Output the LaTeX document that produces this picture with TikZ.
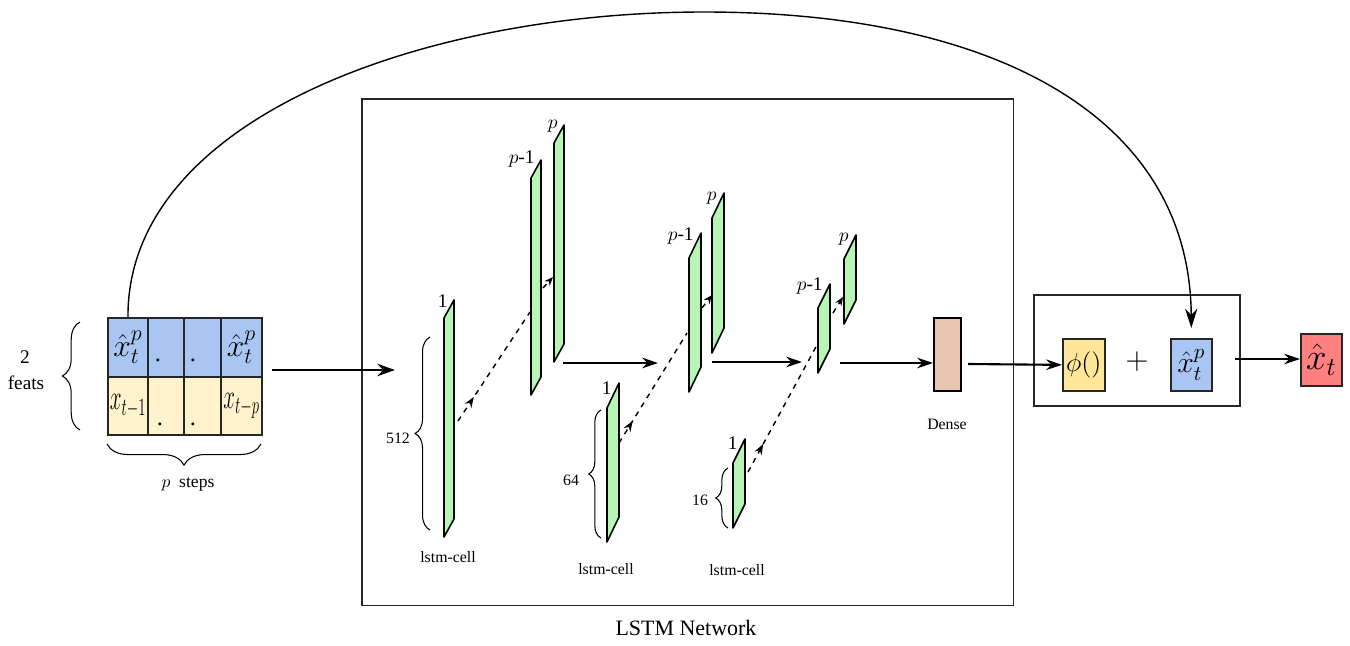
\RequirePackage{fix-cm}
\documentclass[tikz,border=0pt]{standalone}
\usepackage{amsmath}
\usepackage{graphicx}
\usepackage[no-math]{fontspec}
\setmainfont{Liberation Serif}
\usetikzlibrary{arrows.meta,decorations.pathreplacing,decorations.markings}

\definecolor{cblue}{RGB}{169,198,242}
\definecolor{ccream}{RGB}{255,243,206}
\definecolor{cyel}{RGB}{255,230,153}
\definecolor{cred}{RGB}{255,128,128}
\definecolor{cgreen}{RGB}{183,245,183}
\definecolor{cdense}{RGB}{232,198,175}

\newcommand\fs[1]{\fontsize{#1}{#1}\selectfont}
% name, x, ytop, ybottom, dx, dy
\newcommand\lcell[6]{%
  \draw[cellsty] (#2,#4) -- (#2,#3) -- (#2+#5,#3+#6) -- (#2+#5,#4+#6) -- cycle;
  \coordinate (#1) at (#2+#5/2,#3+#6/2);}

\tikzset{
  cellsty/.style={draw=black, fill=cgreen, line width=0.9pt, line join=round},
  cl/.style={anchor=south east, inner sep=0.6pt, font=\fs{11}},
  txt/.style={inner sep=0pt, font=\fs{9}},
  gcell/.style={draw=black!85, line width=1.1pt, anchor=north west, inner sep=0pt, minimum height=1.18cm},
  ibox/.style={draw=black!85, line width=0.9pt, anchor=north west, inner sep=0pt},
  conn/.style={line width=1.2pt, -{Stealth[length=9pt,width=6pt]}},
  bigconn/.style={line width=1.5pt, -{Stealth[length=10pt,width=7pt]}},
  thinconn/.style={line width=0.9pt, -{Stealth[length=9pt,width=6pt]}},
  dmid/.style={dashed, line width=0.8pt, postaction={decorate},
    decoration={markings, mark=at position #1 with {\arrow{Stealth[length=6pt,width=4.5pt]}}}},
  dend/.style={dashed, line width=0.8pt, -{Stealth[length=5pt,width=4pt]}},
  bracesty/.style={decorate, decoration={brace, amplitude=#1}, line width=0.6pt},
  dotn/.style={inner sep=0pt, font=\fs{14}},
}

\begin{document}
\begin{tikzpicture}[x=0.02cm, y=-0.02cm]
\useasboundingbox (0,0) rectangle (1350,646);

% ---------- input grid ----------
\node[gcell, fill=cblue, minimum width=0.80cm] (g11) at (107,317) {\fs{18}$\hat{x}^p_t$};
\node[gcell, fill=cblue, minimum width=0.72cm] (g12) at (147,317) {};
\node[gcell, fill=cblue, minimum width=0.74cm] (g13) at (183,317) {};
\node[gcell, fill=cblue, minimum width=0.82cm] (g14) at (220,317) {\fs{18}$\hat{x}^p_t$};
\node[gcell, fill=ccream, minimum width=0.80cm, minimum height=1.16cm] (g21) at (107,376) {\fs{20}\scalebox{0.6}[1]{$x_{t-1}$}};
\node[gcell, fill=ccream, minimum width=0.72cm, minimum height=1.16cm] (g22) at (147,376) {};
\node[gcell, fill=ccream, minimum width=0.74cm, minimum height=1.16cm] (g23) at (183,376) {};
\node[gcell, fill=ccream, minimum width=0.82cm, minimum height=1.16cm] (g24) at (220,376) {\fs{20}\scalebox{0.6}[1]{$x_{t-p}$}};
\node[dotn] (d1) at (158,360) {.};
\node[dotn] (d2) at (193,360) {.};
\node[dotn] (d3) at (160,424) {.};
\node[dotn] (d4) at (193,424) {.};

% braces around grid
\draw[bracesty=10pt] (80,430) -- (80,322);
\node[inner sep=0pt, font=\fs{11}] (two) at (25,357) {2};
\node[inner sep=0pt, font=\fs{11}] (feats) at (26,383) {feats};
\draw[bracesty=12pt] (261,444) -- (107,444);
\node[inner sep=0pt, font=\fs{10}] (psteps) at (188,484) {$p$\ \ steps};

% ---------- LSTM network box ----------
\node[ibox, minimum width=13.04cm, minimum height=10.14cm] (lstm) at (361,98) {};
\node[inner sep=0pt, font=\fs{12.5}] (lstmlbl) at (686,628) {LSTM Network};

% coordinates for connectors
\coordinate (in0) at (272,370);
\coordinate (in1) at (395,370);
\coordinate (a1s) at (563,363);
\coordinate (a1e) at (658,363);
\coordinate (a2s) at (712,362);
\coordinate (a2e) at (802,362);
\coordinate (a3s) at (840,363);
\coordinate (a3e) at (925,363);
\coordinate (d1s) at (458,421);
\coordinate (d1e) at (530,312);
\coordinate (e1s) at (543,288);
\coordinate (e1e) at (553,277);
\coordinate (d2s) at (619,443);
\coordinate (d2e) at (687,333);
\coordinate (e2s) at (702,308);
\coordinate (e2e) at (712,295);
\coordinate (d3s) at (748,472);
\coordinate (d3e) at (817,345);
\coordinate (e3s) at (833,313);
\coordinate (e3e) at (843,297);

\draw[bigconn] (in0) -- (in1);

% layer 1
\draw[dmid=0.22] (d1s) -- (d1e);
\draw[dend] (e1s) -- (e1e);
\lcell{c11}{444}{318}{537}{10}{-18}
\lcell{c12}{531}{178}{395}{10}{-18}
\lcell{c13}{554}{143}{362}{10}{-18}
\node[cl] (l11) at (c11) {1};
\node[cl] (l12) at (c12) {$p$-1};
\node[cl] (l13) at (c13) {$p$};
\draw[bracesty=8.5pt] (430,530) -- (430,337);
\node[txt] (n512) at (398,438) {512};
\node[txt] (lc1) at (448,557) {lstm-cell};
\draw[conn] (a1s) -- (a1e);

% layer 2
\draw[dmid=0.2] (d2s) -- (d2e);
\draw[dend] (e2s) -- (e2e);
\lcell{c21}{607}{408}{542}{12}{-25}
\lcell{c22}{689}{258}{392}{12}{-25}
\lcell{c23}{712}{218}{353}{12}{-25}
\node[cl] (l21) at (c21) {1};
\node[cl] (l22) at (c22) {$p$-1};
\node[cl] (l23) at (c23) {$p$};
\draw[bracesty=7pt] (601,538) -- (601,410);
\node[txt] (n64) at (571,480) {64};
\node[txt] (lc2) at (606,569) {lstm-cell};
\draw[conn] (a2s) -- (a2e);

% layer 3
\draw[dmid=0.22] (d3s) -- (d3e);
\draw[dend] (e3s) -- (e3e);
\lcell{c31}{733}{463}{528}{12}{-24}
\lcell{c32}{818}{308}{373}{12}{-24}
\lcell{c33}{844}{259}{324}{12}{-24}
\node[cl] (l31) at (c31) {1};
\node[cl] (l32) at (c32) {$p$-1};
\node[cl] (l33) at (c33) {$p$};
\draw[bracesty=7pt] (728,528) -- (728,468);
\node[txt] (n16) at (700,500) {16};
\node[txt] (lc3) at (737,570) {lstm-cell};

% dense
\node[ibox, draw=black, line width=1.1pt, fill=cdense, minimum width=0.54cm, minimum height=1.46cm] (dense) at (933,317) {};
\node[txt] (denselbl) at (947,424) {Dense};
\draw[conn] (a3s) -- (dense.west |- a3s);

% ---------- output part ----------
\node[ibox, minimum width=4.12cm, minimum height=2.22cm] (rbox) at (1033,294) {};
\node[ibox, draw=black!85, line width=1pt, fill=cyel, minimum width=0.84cm, minimum height=1.04cm] (phi) at (1062,338) {\fs{15}$\phi()$};
\node[inner sep=0pt, font=\fs{18}] (plus) at (1137,362) {$+$};
\node[ibox, draw=black!85, line width=1pt, fill=cblue, minimum width=0.82cm, minimum height=1.04cm] (xb) at (1170,338) {\fs{17}$\hat{x}^p_t$};
\node[ibox, draw=black!85, line width=1pt, fill=cred, minimum width=0.82cm, minimum height=1.04cm] (xo) at (1300,333) {\fs{21}$\hat{x}_t$};

\coordinate (dout) at (968,364);
\draw[conn] (dout) -- (phi.west);
\coordinate (rout) at (1235,359);
\draw[thinconn] (rout) -- (xo.west |- rout);

% skip connection
\draw[line width=0.8pt, -{Stealth[length=11pt,width=7pt]}, shorten >=0.2cm]
  (g11.north) .. controls (127,120) and (420,12) .. (704,12)
  .. controls (1000,12) and (1190,120) .. (xb.north);
\end{tikzpicture}
\end{document}
